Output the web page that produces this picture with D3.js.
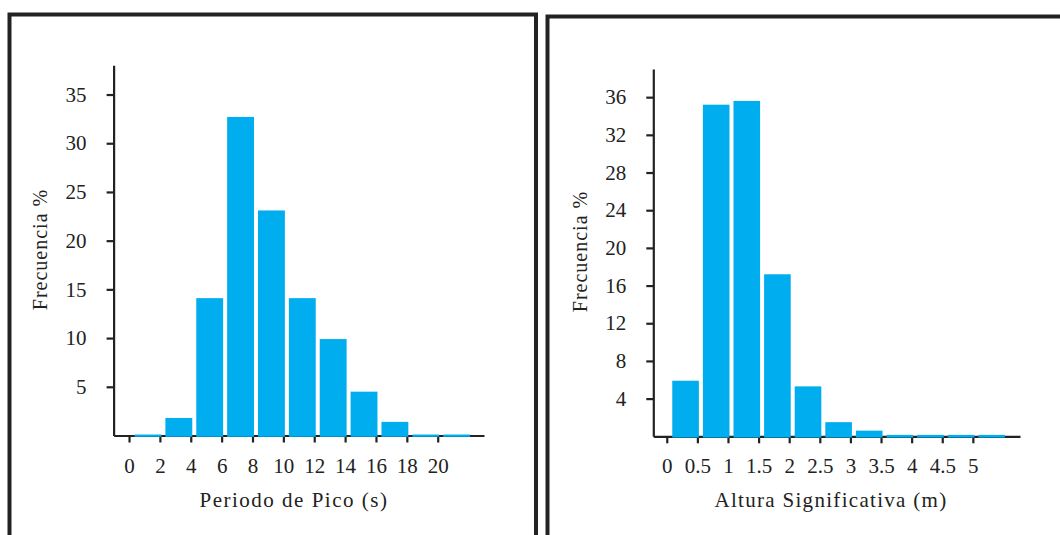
<!DOCTYPE html>
<html>
<head>
<meta charset="utf-8">
<script src="https://cdn.jsdelivr.net/npm/d3@7"></script>
<style>
  html, body { margin: 0; padding: 0; background: #fff; }
  svg { display: block; }
  text { font-family: "Liberation Serif", "Times New Roman", serif; fill: #222; }
</style>
</head>
<body>
<svg id="chart" width="1060" height="535"></svg>
<script>
// ---- Data ----
// Left panel: Periodo de Pico (s), bins of 2 s starting at bin start
const periodBins = [0, 2, 4, 6, 8, 10, 12, 14, 16, 18, 20];
const periodFreq = [0.1, 1.8, 14.1, 32.7, 23.1, 14.1, 9.9, 4.5, 1.4, 0.1, 0.1];
const periodTicks = [0, 2, 4, 6, 8, 10, 12, 14, 16, 18, 20];
const periodYTicks = [5, 10, 15, 20, 25, 30, 35];

// Right panel: Altura Significativa (m), bins of 0.5 m
const heightBins = [0, 0.5, 1, 1.5, 2, 2.5, 3, 3.5, 4, 4.5, 5];
const heightFreq = [5.9, 35.2, 35.6, 17.2, 5.3, 1.5, 0.6, 0.15, 0.15, 0.15, 0.15];
const heightTicks = [0, 0.5, 1, 1.5, 2, 2.5, 3, 3.5, 4, 4.5, 5];
const heightYTicks = [4, 8, 12, 16, 20, 24, 28, 32, 36];

const yTitle = "Frecuencia %";
const xTitleLeft = "Periodo de Pico (s)";
const xTitleRight = "Altura Significativa (m)";

const svg = d3.select("#chart");
const BAR = "#00aeef";
const INK = "#222";

// panel frames
svg.append("rect").attr("x", 9.5).attr("y", 14.5).attr("width", 526.5).attr("height", 600)
  .attr("fill", "none").attr("stroke", INK).attr("stroke-width", 4);
svg.append("rect").attr("x", 547.5).attr("y", 16.5).attr("width", 600).attr("height", 600)
  .attr("fill", "none").attr("stroke", INK).attr("stroke-width", 4);

function panel(cfg) {
  const g = svg.append("g");
  const x = d3.scaleLinear().domain(cfg.xDomain).range(cfg.xRange);
  const y = d3.scaleLinear().domain(cfg.yDomain).range(cfg.yRange);

  // y axis
  const ya = g.append("g").attr("transform", `translate(${cfg.xRange[0]},0)`)
    .call(d3.axisLeft(y).tickValues(cfg.yTicks).tickSize(7).tickSizeOuter(0).tickPadding(20)
      .tickFormat(d3.format("d")));
  // x axis
  const xa = g.append("g").attr("transform", `translate(0,${cfg.yRange[0]})`)
    .call(d3.axisBottom(x).tickValues(cfg.xTicks).tickSize(7).tickSizeOuter(0)
      .tickFormat(d => String(d)));
  [ya, xa].forEach(a => {
    a.select(".domain").attr("stroke", INK).attr("stroke-width", 2.2);
    a.selectAll(".tick line").attr("stroke", INK).attr("stroke-width", 2.2);
    a.selectAll(".tick text").attr("fill", INK).style("font-size", "21px")
      .style("font-family", '"Liberation Serif", serif');
  });
  xa.selectAll(".tick text").attr("y", 37).attr("dy", 0);

  // bars (drawn over axis baseline)
  const step = x(cfg.binWidth) - x(0);
  g.selectAll("rect.bar").data(cfg.bins.map((b, i) => ({b, v: cfg.freq[i]})))
    .join("rect").attr("class", "bar")
    .attr("x", d => x(d.b) + 5.5)
    .attr("width", step - 4)
    .attr("y", d => y(d.v))
    .attr("height", d => y(0) - y(d.v) + 1.3)
    .attr("fill", BAR);

  // titles
  g.append("text").attr("x", cfg.xTitlePos[0]).attr("y", cfg.xTitlePos[1])
    .attr("text-anchor", "middle").style("font-size", "21px").style("letter-spacing", cfg.xTitleLS + "px")
    .text(cfg.xTitle);
  g.append("text").attr("transform", `translate(${cfg.yTitlePos[0]},${cfg.yTitlePos[1]}) rotate(-90)`)
    .attr("text-anchor", "middle").style("font-size", "20px").style("letter-spacing", "1px")
    .text(yTitle);
}

panel({
  bins: periodBins, freq: periodFreq, binWidth: 2,
  xTicks: periodTicks, yTicks: periodYTicks,
  xDomain: [-1, 23], xRange: [113.6, 484],
  yDomain: [0, 38], yRange: [435.5, 65.3],
  xTitle: xTitleLeft, xTitlePos: [294, 507], xTitleLS: 1.5,
  yTitlePos: [47, 249.5]
});

panel({
  bins: heightBins, freq: heightFreq, binWidth: 0.5,
  xTicks: heightTicks, yTicks: heightYTicks,
  xDomain: [-0.22, 5.77], xRange: [653.3, 1020],
  yDomain: [0, 39], yRange: [436.3, 68.9],
  xTitle: xTitleRight, xTitlePos: [831, 507], xTitleLS: 1.3,
  yTitlePos: [587, 251.5]
});
</script>
</body>
</html>
